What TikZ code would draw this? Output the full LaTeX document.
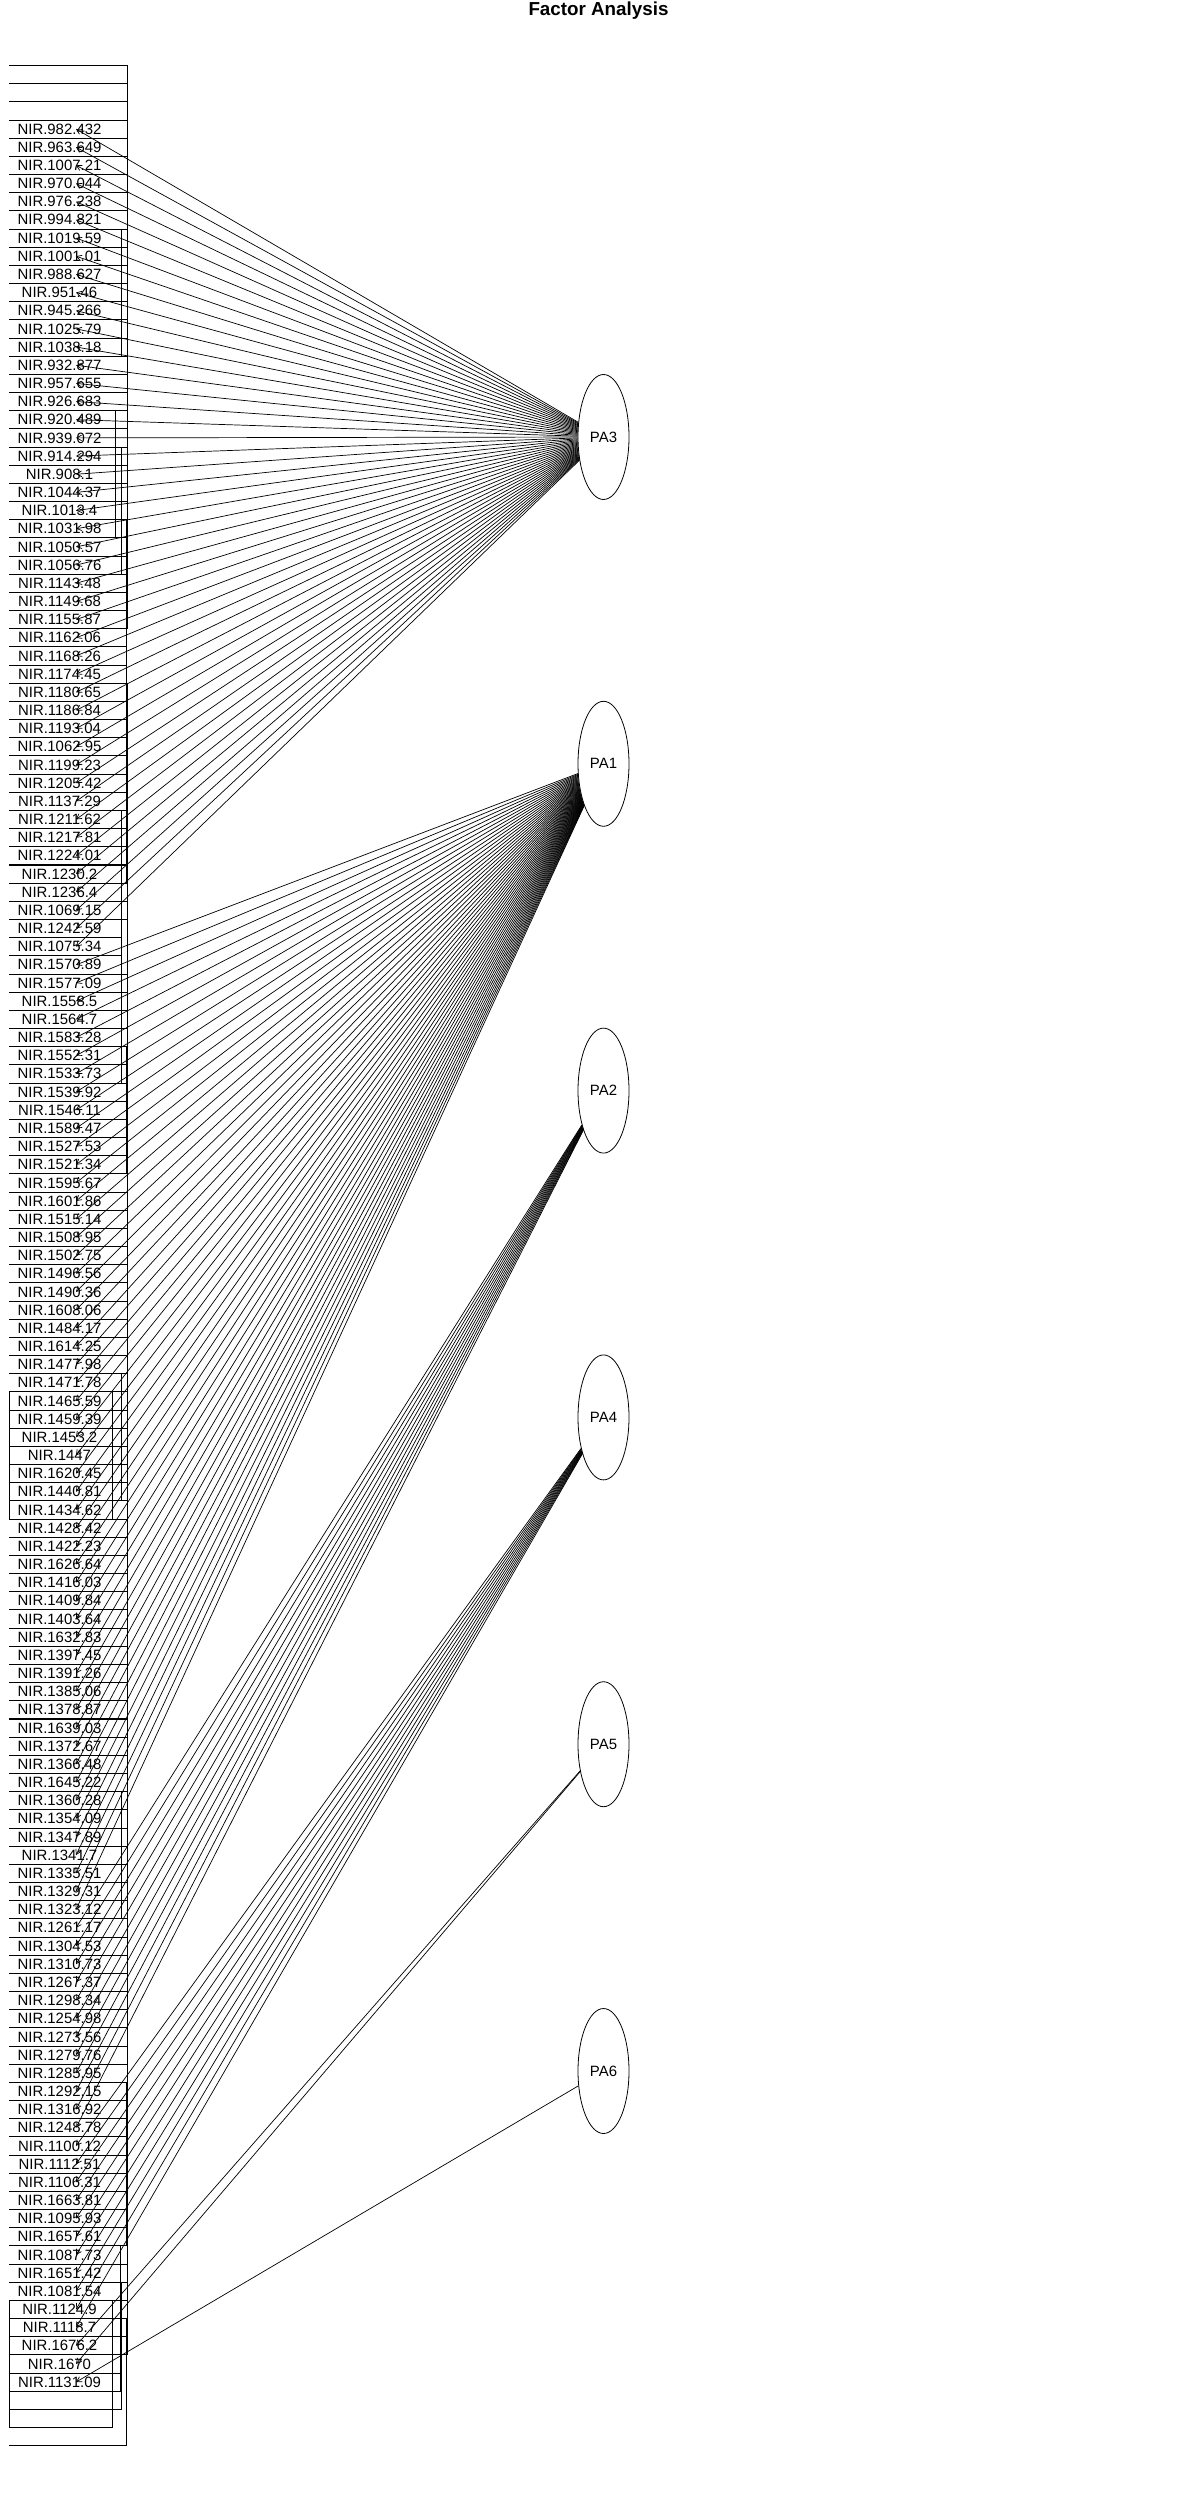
\documentclass[tikz,border=0pt]{standalone}
\usepackage{fontspec}
\setmainfont{Liberation Sans}
\usetikzlibrary{arrows.meta,shapes.geometric}
\newcommand{\varfont}{\fontsize{8.5}{10}\selectfont}
\newlength{\labw}

\begin{document}
\begin{tikzpicture}[x=0.02cm,y=-0.02cm,
  lab/.style={font=\varfont,inner sep=0pt},
  fac/.style={draw,ellipse,line width=0.45pt,minimum width=1.02cm,
    minimum height=2.5cm,inner sep=0pt,font=\varfont},
  box/.style={line width=0.45pt},
  a/.style={-{Straight Barb[length=2.8pt,width=3.2pt]},line width=0.4pt}
]
  \useasboundingbox (0,0) rectangle (1200,2500);
  \node[font=\fontsize{10.7}{12}\selectfont\bfseries] (title) at (598.5,11) {Factor Analysis};
  % factors
  \foreach \f [count=\k] in {PA3,PA1,PA2,PA4,PA5,PA6}
    \node[fac] (\f) at (603.5,{437+326.8*(\k-1)}) {\f};
  % variables
  \foreach \wl [count=\i] in {982.432,963.649,1007.21,970.044,976.238,994.821,
    1019.59,1001.01,988.627,951.46,945.266,1025.79,1038.18,932.877,957.655,
    926.683,920.489,939.072,914.294,908.1,1044.37,1013.4,1031.98,1050.57,
    1056.76,1143.48,1149.68,1155.87,1162.06,1168.26,1174.45,1180.65,1186.84,
    1193.04,1062.95,1199.23,1205.42,1137.29,1211.62,1217.81,1224.01,1230.2,
    1236.4,1069.15,1242.59,1075.34,1570.89,1577.09,1558.5,1564.7,1583.28,
    1552.31,1533.73,1539.92,1546.11,1589.47,1527.53,1521.34,1595.67,1601.86,
    1515.14,1508.95,1502.75,1496.56,1490.36,1608.06,1484.17,1614.25,1477.98,
    1471.78,1465.59,1459.39,1453.2,1447,1620.45,1440.81,1434.62,1428.42,
    1422.23,1626.64,1416.03,1409.84,1403.64,1632.83,1397.45,1391.26,1385.06,
    1378.87,1639.03,1372.67,1366.48,1645.22,1360.28,1354.09,1347.89,1341.7,
    1335.51,1329.31,1323.12,1261.17,1304.53,1310.73,1267.37,1298.34,1254.98,
    1273.56,1279.76,1285.95,1292.15,1316.92,1248.78,1100.12,1112.51,1106.31,
    1663.81,1095.93,1657.61,1087.73,1651.42,1081.54,1124.9,1118.7,1676.2,
    1670,1131.09}{
    \pgfmathsetmacro{\yy}{129+18.17*(\i-1)}
    \node[lab] (v\i) at (59.5,\yy) {NIR.\wl};
    \coordinate (t\i) at (76,\yy);
    \pgfextractx{\labw}{\pgfpointanchor{v\i}{east}}
    \pgfmathsetmacro{\rr}{66.2+1.454*(\labw/0.5691-59.5)}
    \ifdim\labw<52.4pt
      \draw[box] (9,{\yy-63.6}) rectangle (\rr,{\yy+63.6});
    \else
      \draw[box] (9,{\yy-63.6}) -| (\rr,{\yy+63.6}) -- (9,{\yy+63.6});
    \fi
  }
  % loadings
  \foreach \i in {1,...,46} {\draw[a] (PA3) -- (t\i);}
  \foreach \i in {47,...,99} {\draw[a] (PA1) -- (t\i);}
  \foreach \i in {100,...,111} {\draw[a] (PA2) -- (t\i);}
  \foreach \i in {112,...,122} {\draw[a] (PA4) -- (t\i);}
  \foreach \i in {123,124} {\draw[a] (PA5) -- (t\i);}
  \draw[a] (PA6) -- (t125);
\end{tikzpicture}
\end{document}
